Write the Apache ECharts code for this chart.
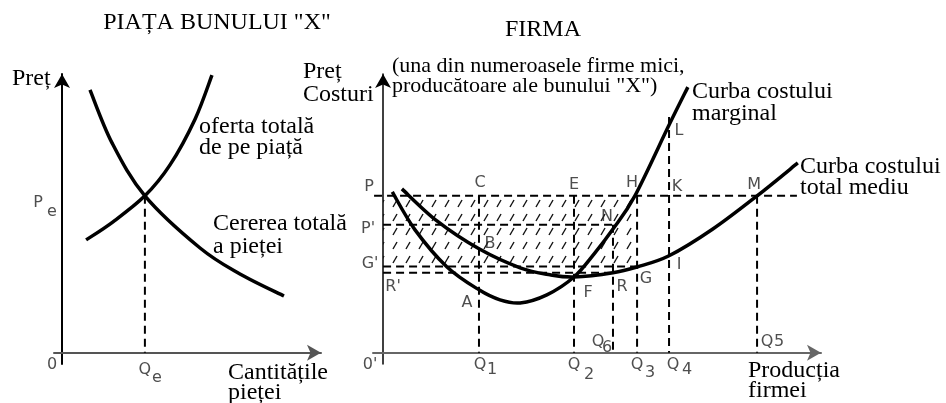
<!DOCTYPE html>
<html>
<head>
<meta charset="utf-8">
<script src="https://cdn.jsdelivr.net/npm/echarts@6/dist/echarts.min.js"></script>
<style>
html, body { margin: 0; padding: 0; background: #fff; }
#chart { width: 946px; height: 403px; }
</style>
</head>
<body>
<div id="chart"></div>
<script>
// --- piata bunului X (left panel) ---
var qe = 32.0, pe = 56.3;
var supplyX = [9.3, 19.7, 32.0, 41.7, 51.4, 57.9];
var supplyY = [40.5, 47.0, 56.3, 67.4, 83.9, 99.6];
var demandX = [10.8, 19.3, 32.0, 53.3, 68.7, 85.7];
var demandY = [94.3, 75.3, 56.3, 37.6, 28.3, 20.4];

// --- firma (right panel) ---
var qNames = ['1', '2', '6', '3', '4', '5'];
var qValues = [21.9, 43.6, 52.5, 58.0, 65.3, 85.4];
var p = 56.3, pPrime = 45.9, gPrime = 31.0, rPrime = 28.7;
var mcAtQ4 = 81.7, q4Top = 84.6;
var mcX = [2.1, 7.3, 14.6, 21.9, 26.7, 31.3, 37.4, 43.6, 48.2, 52.5, 57.5, 65.3, 69.6];
var mcY = [57.7, 44.1, 30.8, 22.6, 19.0, 17.9, 20.8, 27.2, 35.5, 44.4, 56.3, 81.7, 95.3];
var atcX = [4.3, 12.3, 21.9, 31.3, 38.1, 43.6, 52.5, 58.0, 65.3, 75.3, 85.4, 94.7];
var atcY = [58.8, 47.3, 37.3, 30.5, 28.0, 27.2, 28.7, 30.8, 34.8, 44.4, 56.3, 68.1];
var priceLineFrom = -73.3, priceLineTo = 94.5;

var q1 = qValues[0], q2 = qValues[1], q6 = qValues[2], q3 = qValues[3], q4 = qValues[4], q5 = qValues[5];

var firmLabels = ['P', 'C', 'E', 'H', 'K', 'M', 'L', 'N', "P'", "G'", "R'", 'B', 'A', 'F', 'R', 'G', 'I'];
var firmLabelX = [0, q1, q2, q3, q4, q5, q4, q6, 0, 0, 0, q1, q1, q2, q6, q3, q4];
var firmLabelY = [p, p, p, p, p, p, mcAtQ4, pPrime, pPrime, gPrime, rPrime, 37.3, 22.6, 27.2, rPrime, gPrime, 34.8];

var marketLabels = ['P', 'e', 'Q', 'e', '0'];
var marketLabelX = [0, 0, qe, qe, 0];
var marketLabelY = [pe, pe, 0, 0, 0];

// label offsets in px (layout only)
var firmLabelOffsets = [[-14, -9], [1, -13], [0, -11], [-5, -13], [8, -9], [-3, -11], [10, 6], [-6, -8],
  [-15, 4], [-13, -3], [10, 14], [11, -5], [-12, 13], [14, 16], [9, 14], [9, 12], [10, 9]];
var qMainOffsets = [[1, 12], [0, 12], [-15, -11], [0, 12], [4, 12], [10, -11]];
var qSubOffsets = [[13, 17], [15, 22], [-6, -5], [13, 20], [18, 17], [22, -11]];
var marketLabelOffsets = [[-24, 7], [-10, 16], [0, 17], [12, 25], [-10, 12]];

var SANS = 'DejaVu Sans';
var SERIF = '"Liberation Serif", "Times New Roman", serif';

function zip(xs, ys) {
  return xs.map(function (x, i) { return [x, ys[i]]; });
}

// hatching tile
var hatch = document.createElement('canvas');
hatch.width = 13; hatch.height = 14;
var hc = hatch.getContext('2d');
hc.strokeStyle = '#111';
hc.lineWidth = 1.4;
hc.beginPath();
hc.moveTo(3, 11);
hc.lineTo(7, 4);
hc.stroke();

var dash = { color: '#000', width: 2, type: [8, 5] };

function guide(grid, a, b, clip) {
  return {
    type: 'line', xAxisIndex: grid, yAxisIndex: grid, data: [a, b],
    symbol: 'none', lineStyle: dash, silent: true, z: 2, clip: clip !== false
  };
}

// smooth curve through the points (catmull-rom -> bezier), drawn in axis coords
function curve(grid, xs, ys) {
  return {
    type: 'custom', xAxisIndex: grid, yAxisIndex: grid, silent: true, z: 4,
    data: zip(xs, ys),
    renderItem: function (params, api) {
      if (params.dataIndex !== 0) return;
      var pts = xs.map(function (x, i) { return api.coord([x, ys[i]]); });
      var d = 'M' + pts[0][0] + ' ' + pts[0][1];
      for (var i = 0; i < pts.length - 1; i++) {
        var p0 = pts[Math.max(i - 1, 0)], p1 = pts[i], p2 = pts[i + 1], p3 = pts[Math.min(i + 2, pts.length - 1)];
        var c1 = [p1[0] + (p2[0] - p0[0]) / 6, p1[1] + (p2[1] - p0[1]) / 6];
        var c2 = [p2[0] - (p3[0] - p1[0]) / 6, p2[1] - (p3[1] - p1[1]) / 6];
        d += ' C' + c1[0] + ' ' + c1[1] + ' ' + c2[0] + ' ' + c2[1] + ' ' + p2[0] + ' ' + p2[1];
      }
      return {
        type: 'path', shape: { pathData: d },
        style: { fill: 'none', stroke: '#000', lineWidth: 3.5, lineCap: 'butt' }
      };
    }
  };
}

function labels(grid, names, xs, ys, offsets, size) {
  return {
    type: 'scatter', xAxisIndex: grid, yAxisIndex: grid, symbolSize: 0, silent: true, z: 6,
    data: names.map(function (n, i) {
      return { value: [xs[i], ys[i]], name: n, label: { offset: offsets[i] } };
    }),
    label: {
      show: true, position: 'inside', formatter: '{b}', color: '#222',
      fontFamily: SANS, fontSize: size || 16
    }
  };
}

function axisX(grid, min, color) {
  return {
    type: 'value', gridIndex: grid, min: min, max: 100,
    axisLine: { onZero: true, lineStyle: { color: color, width: 2 }, symbol: ['none', 'arrow'], symbolSize: [12, 14] },
    axisTick: { show: false }, axisLabel: { show: false }, splitLine: { show: false }
  };
}
function axisY(grid, width) {
  return {
    type: 'value', gridIndex: grid, min: -4, max: 100,
    axisLine: { onZero: true, lineStyle: { color: '#000', width: width }, symbol: ['none', 'arrow'], symbolSize: [12, 14] },
    axisTick: { show: false }, axisLabel: { show: false }, splitLine: { show: false }
  };
}

var texts = [
  ['PIAȚA BUNULUI "X"', 217, 23, 'center'],
  ['FIRMA', 543, 30, 'center'],
  ['Preț', 12, 79, 'left'],
  ['oferta totală', 199, 127, 'left'],
  ['de pe piață', 199, 148, 'left'],
  ['Cererea totală', 213, 224, 'left'],
  ['a pieței', 213, 247, 'left'],
  ['Cantitățile', 228, 373, 'left'],
  ['pieței', 228, 393, 'left'],
  ['Preț', 303, 72, 'left'],
  ['Costuri', 303, 95, 'left'],
  ['(una din numeroasele firme mici,', 392, 66, 'left', 22],
  ['producătoare ale bunului "X")', 392, 86, 'left', 22],
  ['Curba costului', 692, 92, 'left'],
  ['marginal', 692, 114, 'left'],
  ['Curba costului', 800, 167, 'left'],
  ['total mediu', 800, 188, 'left'],
  ['Producția', 748, 371, 'left'],
  ['firmei', 748, 391, 'left']
];

var series = [];
// market
series.push(guide(0, [qe, pe], [qe, 0]));
series.push(curve(0, supplyX, supplyY));
series.push(curve(0, demandX, demandY));
series.push(labels(0, marketLabels, marketLabelX, marketLabelY, marketLabelOffsets));

// firm
series.push({
  type: 'custom', xAxisIndex: 1, yAxisIndex: 1, silent: true, z: 1,
  data: [[0, p, q3, gPrime]],
  renderItem: function (params, api) {
    var a = api.coord([api.value(0), api.value(1)]);
    var b = api.coord([api.value(2), api.value(3)]);
    return {
      type: 'rect',
      shape: { x: a[0], y: a[1], width: b[0] - a[0], height: b[1] - a[1] },
      style: { fill: { image: hatch, repeat: 'repeat' } }
    };
  }
});
series.push(guide(1, [priceLineFrom, p], [priceLineTo, p], false));
series.push(guide(1, [0, pPrime], [q6, pPrime]));
series.push(guide(1, [0, gPrime], [q3, gPrime]));
series.push(guide(1, [0, rPrime], [q6, rPrime]));
series.push(guide(1, [q1, p], [q1, 0]));
series.push(guide(1, [q2, p], [q2, 0]));
series.push(guide(1, [q6, pPrime], [q6, 0]));
series.push(guide(1, [q3, p], [q3, 0]));
series.push(guide(1, [q4, q4Top], [q4, 0]));
series.push(guide(1, [q5, p], [q5, 0]));
series.push(curve(1, mcX, mcY));
series.push(curve(1, atcX, atcY));
series.push(labels(1, firmLabels, firmLabelX, firmLabelY, firmLabelOffsets));
series.push(labels(1, ['0\''], [0], [0], [[-13, 12]]));
series.push(labels(1, qValues.map(function () { return 'Q'; }), qValues, qValues.map(function () { return 0; }), qMainOffsets));
series.push(labels(1, qNames, qValues, qValues.map(function () { return 0; }), qSubOffsets));

var chart = echarts.init(document.getElementById('chart'));
chart.setOption({
  animation: false,
  backgroundColor: '#fff',
  grid: [
    { left: 54, top: 74, width: 267, height: 290 },
    { left: 373, top: 74, width: 448, height: 290 }
  ],
  xAxis: [axisX(0, -3.1, '#555'), axisX(1, -2.3, '#666')],
  yAxis: [axisY(0, 2), axisY(1, 1.5)],
  graphic: texts.map(function (t) {
    return {
      type: 'text', x: t[1], y: t[2], silent: true,
      style: {
        text: t[0], fill: '#000', font: (t[4] || 24) + 'px ' + SERIF,
        textAlign: t[3], textVerticalAlign: 'middle'
      }
    };
  }),
  series: series
});
</script>
</body>
</html>
